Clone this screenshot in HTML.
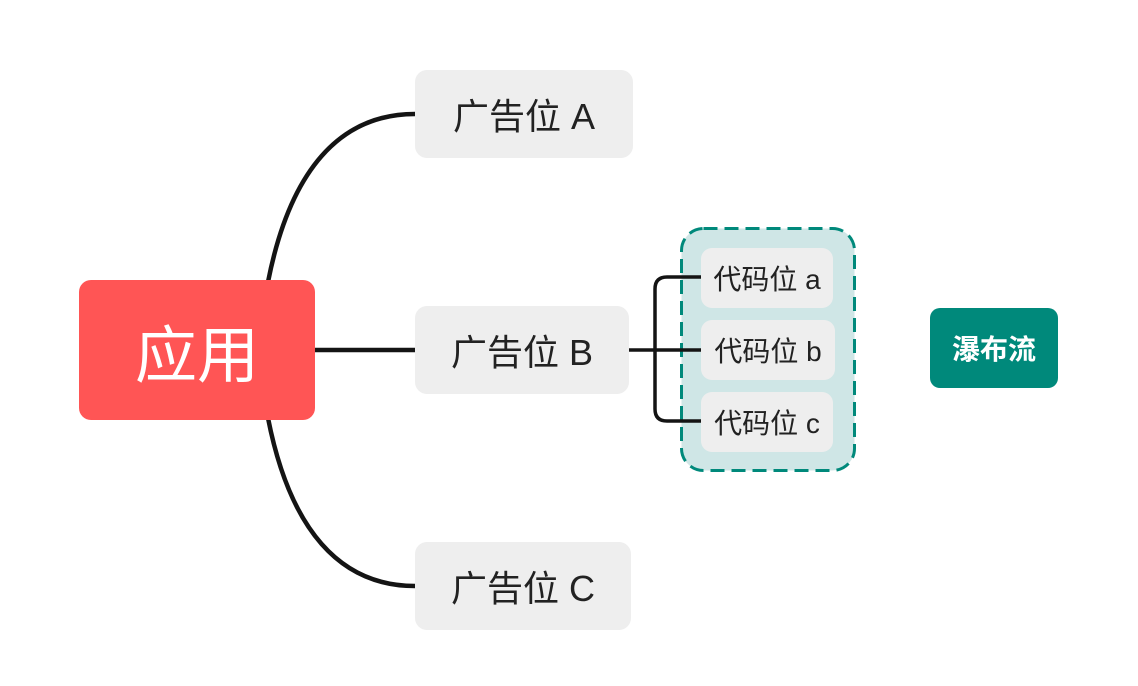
<!DOCTYPE html>
<html><head><meta charset="utf-8"><style>
body{margin:0;width:1138px;height:686px;background:#fff;position:relative;overflow:hidden;font-family:"Liberation Sans","Noto Sans CJK SC",sans-serif}
.b{position:absolute;display:flex;align-items:center;justify-content:center;border-radius:12px;box-sizing:border-box}
.g{background:#eeeeee;color:#222;font-size:36px}
.s{background:#eeeeee;color:#222;font-size:28px;border-radius:11px}
</style></head><body>
<svg width="1138" height="686" style="position:absolute;left:0;top:0">
<path d="M268 282 C290 170 340 114 415 114" fill="none" stroke="#141414" stroke-width="4.5"/>
<path d="M268 418 C290 530 340 586 415 586" fill="none" stroke="#141414" stroke-width="4.5"/>
<line x1="314" y1="350" x2="415" y2="350" stroke="#141414" stroke-width="4.5"/>
<rect x="681.5" y="228.5" width="173" height="242" rx="22" fill="#cfe6e6" stroke="#00897b" stroke-width="3" stroke-dasharray="14,7"/>
<line x1="629" y1="350" x2="701" y2="350" stroke="#141414" stroke-width="3.5"/>
<path d="M701 277 H667 Q655 277 655 289 V409 Q655 421 667 421 H701" fill="none" stroke="#141414" stroke-width="3.5"/>
</svg>
<div class="b" style="left:79px;top:280px;width:236px;height:140px;background:#ff5555;color:#fff;font-size:62px">应用</div>
<div class="b g" style="left:415px;top:70px;width:218px;height:88px">广告位 A</div>
<div class="b g" style="left:415px;top:306px;width:214px;height:88px">广告位 B</div>
<div class="b g" style="left:415px;top:542px;width:216px;height:88px">广告位 C</div>
<div class="b s" style="left:701px;top:248px;width:132px;height:60px">代码位 a</div>
<div class="b s" style="left:701px;top:320px;width:134px;height:60px">代码位 b</div>
<div class="b s" style="left:701px;top:392px;width:132px;height:60px">代码位 c</div>
<div class="b" style="left:930px;top:308px;width:128px;height:80px;background:#00897b;color:#fff;font-size:28px;font-weight:bold;border-radius:10px">瀑布流</div>
</body></html>
